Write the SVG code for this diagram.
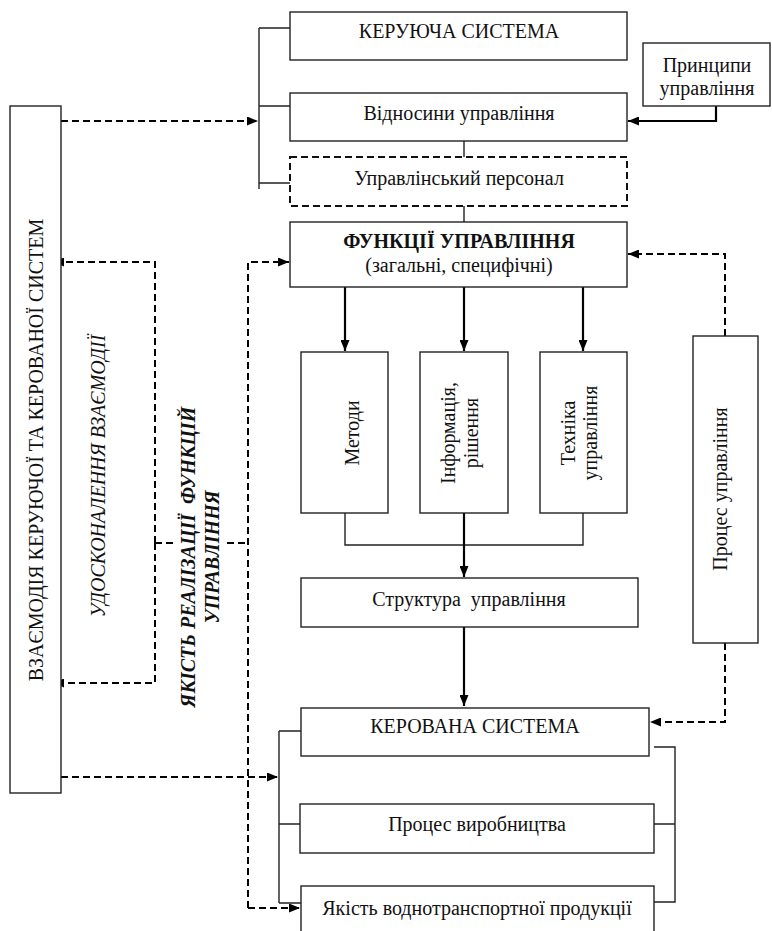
<svg xmlns="http://www.w3.org/2000/svg" width="772" height="931" viewBox="0 0 772 931">
<style>
.box{fill:#fff;stroke:#222;stroke-width:1.4}
.dbox{fill:#fff;stroke:#111;stroke-width:2;stroke-dasharray:7 4}
.ln{fill:none;stroke:#222;stroke-width:1.4}
.th{fill:none;stroke:#000;stroke-width:2.2}
.ds{fill:none;stroke:#000;stroke-width:2;stroke-dasharray:7 4}
text{font-family:'Times New Roman','Liberation Serif','DejaVu Serif',serif;font-size:20px;fill:#111}
.c{text-anchor:middle}
.b{font-weight:bold}
.i{font-style:italic}
</style>
<defs>
<marker id="ah" markerUnits="userSpaceOnUse" markerWidth="11" markerHeight="9" refX="11" refY="4.5" orient="auto">
<path d="M0,0 L11,4.5 L0,9 z" fill="#000"/>
</marker>
</defs>

<g id="connectors">
<path class="ln" d="M259,28 V189 M259,28 H290 M259,106 H290 M259,183 H290"/>
<path class="ln" d="M464,141 V157 M464,206 V222"/>
<path class="th" d="M716,106 V121 H628" marker-end="url(#ah)"/>
<path class="ds" d="M61,121 H258" marker-end="url(#ah)"/>
<path class="th" d="M345,287 V351" marker-end="url(#ah)"/>
<path class="th" d="M464,287 V351" marker-end="url(#ah)"/>
<path class="th" d="M583,287 V351" marker-end="url(#ah)"/>
<path class="ln" d="M345,513 V545 H583 V513"/>
<path class="th" d="M464,513 V577" marker-end="url(#ah)"/>
<path class="th" d="M464,627 V706" marker-end="url(#ah)"/>
<path class="ds" d="M725,336 V254 H628" marker-end="url(#ah)"/>
<path class="ds" d="M725,643 V722 H650" marker-end="url(#ah)"/>
<path class="ds" d="M155,543 V262 H53" marker-end="url(#ah)"/>
<path class="ds" d="M155,543 V683 H53" marker-end="url(#ah)"/>
<path class="ds" d="M155,543 H177 M227,543 H248"/>
<path class="ds" d="M248,908 V262 H289" marker-end="url(#ah)"/>
<path class="ds" d="M248,908 H300" marker-end="url(#ah)"/>
<path class="ds" d="M61,777 H278" marker-end="url(#ah)"/>
<path class="ln" d="M279,731 V903 M279,731 H301 M279,824 H300 M279,903 H301"/>
<path class="ln" d="M654,747 H675 V902 H654 M654,824 H675"/>
</g>

<g id="n-interaction">
<rect class="box" x="10" y="106" width="51" height="687"/>
<text class="c" transform="translate(43,450) rotate(-90)">ВЗАЄМОДІЯ КЕРУЮЧОЇ ТА КЕРОВАНОЇ СИСТЕМ</text>
</g>
<g id="n-managing">
<rect class="box" x="290" y="12" width="337" height="48"/>
<text class="c" x="459" y="38">КЕРУЮЧА СИСТЕМА</text>
</g>
<g id="n-relations">
<rect class="box" x="290" y="93" width="337" height="48"/>
<text class="c" x="459" y="120">Відносини управління</text>
</g>
<g id="n-principles">
<rect class="box" x="643" y="43" width="127" height="63"/>
<text class="c" x="707" y="72">Принципи</text>
<text class="c" x="707" y="95">управління</text>
</g>
<g id="n-personnel">
<rect class="dbox" x="290" y="157" width="337" height="49"/>
<text class="c" x="459" y="185">Управлінський персонал</text>
</g>
<g id="n-functions">
<rect class="box" x="290" y="222" width="337" height="65"/>
<text class="c b" x="459" y="248">ФУНКЦІЇ УПРАВЛІННЯ</text>
<text class="c" x="459" y="272">(загальні, специфічні)</text>
</g>
<g id="n-methods">
<rect class="box" x="301" y="352" width="87" height="161"/>
<text class="c" transform="translate(359,433) rotate(-90)">Методи</text>
</g>
<g id="n-info">
<rect class="box" x="420" y="352" width="88" height="161"/>
<text class="c" transform="translate(455,433) rotate(-90)">Інформація,</text>
<text class="c" transform="translate(478,433) rotate(-90)">рішення</text>
</g>
<g id="n-technique">
<rect class="box" x="540" y="352" width="87" height="161"/>
<text class="c" transform="translate(575,433) rotate(-90)">Техніка</text>
<text class="c" transform="translate(597,433) rotate(-90)">управління</text>
</g>
<g id="n-process-mgmt">
<rect class="box" x="693" y="336" width="65" height="307"/>
<text class="c" transform="translate(727,489) rotate(-90)">Процес управління</text>
</g>
<g id="n-structure">
<rect class="box" x="301" y="578" width="337" height="49"/>
<text class="c" x="469" y="606" xml:space="preserve">Структура  управління</text>
</g>
<g id="n-managed">
<rect class="box" x="301" y="708" width="348" height="48"/>
<text class="c" x="475" y="733">КЕРОВАНА СИСТЕМА</text>
</g>
<g id="n-production">
<rect class="box" x="300" y="804" width="354" height="49"/>
<text class="c" x="477" y="831">Процес виробництва</text>
</g>
<g id="n-quality">
<rect class="box" x="301" y="886" width="353" height="60"/>
<text class="c" x="477" y="915">Якість воднотранспортної продукції</text>
</g>
<g id="labels">
<rect x="177" y="525" width="50" height="36" fill="#fff"/>
<text class="c i" transform="translate(105,476) rotate(-90)">УДОСКОНАЛЕННЯ ВЗАЄМОДІЇ</text>
<text class="c i b" transform="translate(195,557) rotate(-90)" xml:space="preserve">ЯКІСТЬ РЕАЛІЗАЦІЇ  ФУНКЦІЙ</text>
<text class="c i b" transform="translate(219,557) rotate(-90)">УПРАВЛІННЯ</text>
</g>
</svg>
